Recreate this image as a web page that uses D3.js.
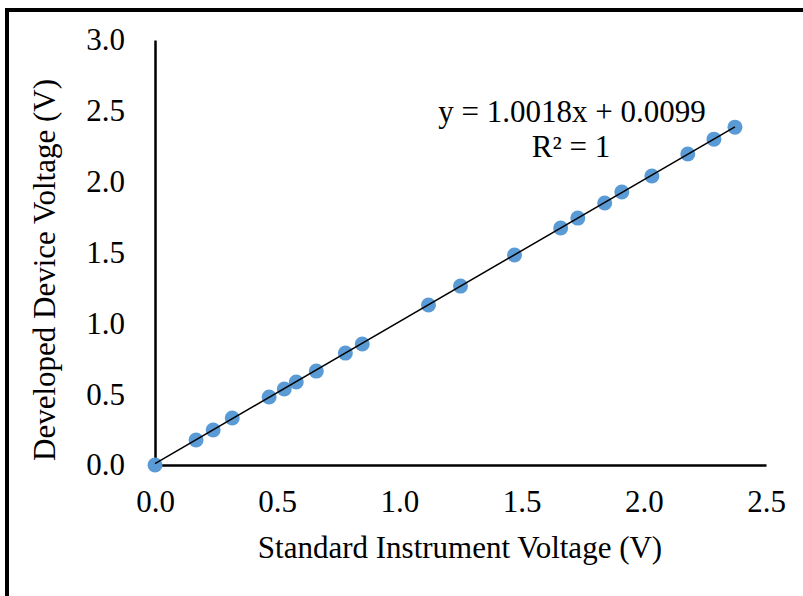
<!DOCTYPE html>
<html>
<head>
<meta charset="utf-8">
<script src="https://cdn.jsdelivr.net/npm/d3@7"></script>
<style>
  body { margin: 0; background: #fff; }
  svg { display: block; font-family: 'Liberation Serif', 'Times New Roman', serif; }
</style>
</head>
<body>
<svg id="chart" width="803" height="596"></svg>
<script>
// measured points (V)
const standardV = [0, 0.168, 0.238, 0.316, 0.467, 0.529, 0.578, 0.66, 0.779, 0.848,
  1.119, 1.25, 1.471, 1.66, 1.73, 1.84, 1.91, 2.033, 2.18, 2.287, 2.373];
const deviceV = [0, 0.176, 0.247, 0.332, 0.48, 0.536, 0.586, 0.663, 0.79, 0.854,
  1.129, 1.263, 1.482, 1.673, 1.743, 1.849, 1.927, 2.04, 2.195, 2.30, 2.385];
const xTicks = [0, 0.5, 1.0, 1.5, 2.0, 2.5];
const yTicks = [0, 0.5, 1.0, 1.5, 2.0, 2.5, 3.0];
const slope = 1.0018, intercept = 0.0099;

const svg = d3.select('#chart');
const margin = { left: 155, right: 37, top: 40, bottom: 131 };
const width = 803, height = 596;
const fs = 31;

// outer frame (runs off right / bottom)
svg.append('rect')
  .attr('x', 7).attr('y', 10)
  .attr('width', 820).attr('height', 620)
  .attr('fill', 'none').attr('stroke', '#000').attr('stroke-width', 4);

const x = d3.scaleLinear().domain([0, 2.5]).range([margin.left, width - margin.right]);
const y = d3.scaleLinear().domain([0, 3]).range([height - margin.bottom, margin.top]);

const xAxis = svg.append('g')
  .attr('transform', `translate(0,${y(0)})`)
  .call(d3.axisBottom(x).tickValues(xTicks).tickSize(0).tickPadding(25).tickFormat(d3.format('.1f')));
const yAxis = svg.append('g')
  .attr('transform', `translate(${x(0)},0)`)
  .call(d3.axisLeft(y).tickValues(yTicks).tickSize(0).tickPadding(30).tickFormat(d3.format('.1f')));

[xAxis, yAxis].forEach(g => {
  g.select('.domain').attr('stroke', '#000').attr('stroke-width', 2.5);
  g.selectAll('text').attr('font-family', 'Liberation Serif').attr('font-size', fs).attr('fill', '#000');
});

// points
svg.append('g').selectAll('circle')
  .data(standardV.map((d, i) => [d, deviceV[i]]))
  .enter()
  .append('circle')
  .attr('cx', d => x(d[0]))
  .attr('cy', d => y(d[1]))
  .attr('r', 7.5)
  .attr('fill', '#5b9bd5');

// trendline
const xMax = d3.max(standardV);
svg.append('line')
  .attr('x1', x(0)).attr('y1', y(intercept))
  .attr('x2', x(xMax)).attr('y2', y(slope * xMax + intercept))
  .attr('stroke', '#000').attr('stroke-width', 1.5);

// equation
svg.append('text')
  .attr('x', 572).attr('y', 122)
  .attr('text-anchor', 'middle').attr('font-size', fs)
  .text('y = 1.0018x + 0.0099');
svg.append('text')
  .attr('x', 571).attr('y', 157)
  .attr('text-anchor', 'middle').attr('font-size', fs)
  .text('R² = 1');

// axis titles
svg.append('text')
  .attr('x', 460).attr('y', 558)
  .attr('text-anchor', 'middle').attr('font-size', fs)
  .text('Standard Instrument Voltage (V)');
svg.append('text')
  .attr('transform', `translate(55,${270}) rotate(-90)`)
  .attr('text-anchor', 'middle').attr('font-size', fs)
  .text('Developed Device Voltage (V)');
</script>
</body>
</html>
